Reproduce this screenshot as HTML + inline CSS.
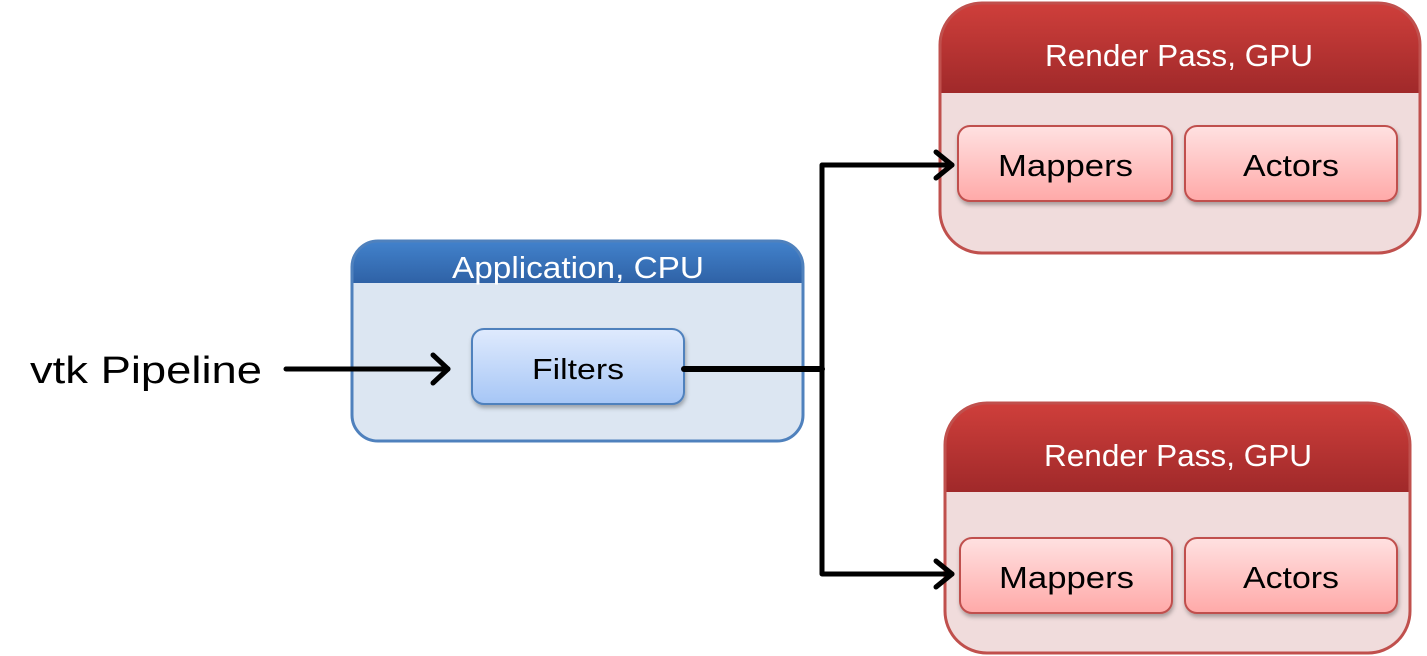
<!DOCTYPE html>
<html><head><meta charset="utf-8"><style>
html,body{margin:0;padding:0;background:#fff;width:1427px;height:656px;overflow:hidden}
svg{display:block}
text{font-family:"Liberation Sans",sans-serif}
</style></head><body>
<svg width="1427" height="656" viewBox="0 0 1427 656" xmlns="http://www.w3.org/2000/svg">
<defs>
<linearGradient id="rh" x1="0" y1="0" x2="0" y2="1"><stop offset="0" stop-color="#cf3f3b"/><stop offset="1" stop-color="#a0292a"/></linearGradient>
<linearGradient id="bh" x1="0" y1="0" x2="0" y2="1"><stop offset="0" stop-color="#4282cc"/><stop offset="1" stop-color="#2f62a6"/></linearGradient>
<linearGradient id="ri" x1="0" y1="0" x2="0" y2="1"><stop offset="0" stop-color="#ffe1e1"/><stop offset="1" stop-color="#ffa9a8"/></linearGradient>
<linearGradient id="bi" x1="0" y1="0" x2="0" y2="1"><stop offset="0" stop-color="#dfeafd"/><stop offset="1" stop-color="#a6c6f6"/></linearGradient>
<clipPath id="c1"><rect x="940" y="3" width="480" height="250" rx="42"/></clipPath>
<clipPath id="c2"><rect x="945" y="403" width="465" height="250" rx="42"/></clipPath>
<clipPath id="c3"><rect x="352" y="241" width="451" height="200" rx="26"/></clipPath>
<filter id="sh" x="-10%" y="-10%" width="130%" height="140%"><feDropShadow dx="1" dy="3" stdDeviation="2" flood-color="#000" flood-opacity="0.3"/></filter>
</defs>

<!-- Top render pass -->
<rect x="940" y="3" width="480" height="250" rx="42" fill="#f0dcdc"/>
<rect x="940" y="3" width="480" height="90" fill="url(#rh)" clip-path="url(#c1)"/>
<rect x="940" y="3" width="480" height="250" rx="42" fill="none" stroke="#c0504d" stroke-width="3"/>
<text x="1045" y="66" font-size="31" fill="#fff" textLength="268" lengthAdjust="spacingAndGlyphs">Render Pass, GPU</text>
<rect x="958" y="126" width="214" height="75" rx="12" fill="url(#ri)" stroke="#c0504d" stroke-width="2" filter="url(#sh)"/>
<rect x="1185" y="126" width="212" height="75" rx="12" fill="url(#ri)" stroke="#c0504d" stroke-width="2" filter="url(#sh)"/>
<text x="998" y="176" font-size="31" textLength="135" lengthAdjust="spacingAndGlyphs">Mappers</text>
<text x="1243" y="176" font-size="31" textLength="96" lengthAdjust="spacingAndGlyphs">Actors</text>

<!-- Bottom render pass -->
<rect x="945" y="403" width="465" height="250" rx="42" fill="#f0dcdc"/>
<rect x="945" y="403" width="465" height="89" fill="url(#rh)" clip-path="url(#c2)"/>
<rect x="945" y="403" width="465" height="250" rx="42" fill="none" stroke="#c0504d" stroke-width="3"/>
<text x="1044" y="466" font-size="31" fill="#fff" textLength="268" lengthAdjust="spacingAndGlyphs">Render Pass, GPU</text>
<rect x="960" y="538" width="212" height="75" rx="12" fill="url(#ri)" stroke="#c0504d" stroke-width="2" filter="url(#sh)"/>
<rect x="1185" y="538" width="212" height="75" rx="12" fill="url(#ri)" stroke="#c0504d" stroke-width="2" filter="url(#sh)"/>
<text x="999" y="588" font-size="31" textLength="135" lengthAdjust="spacingAndGlyphs">Mappers</text>
<text x="1243" y="588" font-size="31" textLength="96" lengthAdjust="spacingAndGlyphs">Actors</text>

<!-- Application -->
<rect x="352" y="241" width="451" height="200" rx="26" fill="#dce6f2"/>
<rect x="352" y="241" width="451" height="42" fill="url(#bh)" clip-path="url(#c3)"/>
<rect x="352" y="241" width="451" height="200" rx="26" fill="none" stroke="#4f81bd" stroke-width="3"/>
<text x="452" y="278" font-size="31" fill="#fff" textLength="252" lengthAdjust="spacingAndGlyphs">Application, CPU</text>
<rect x="472" y="329" width="212" height="75" rx="12" fill="url(#bi)" stroke="#4f81bd" stroke-width="2" filter="url(#sh)"/>
<text x="532" y="379" font-size="29" textLength="92" lengthAdjust="spacingAndGlyphs">Filters</text>

<text x="30" y="383" font-size="38" textLength="232" lengthAdjust="spacingAndGlyphs">vtk Pipeline</text>

<!-- connectors -->
<g stroke="#000" stroke-width="5" fill="none" stroke-linecap="round" stroke-linejoin="round">
<line x1="286" y1="369" x2="448" y2="369"/>
<polyline points="433,355 448,369 433,383"/>
<line x1="684" y1="369" x2="822" y2="369" stroke-width="6"/>
<polyline points="952,165 822,165 822,574 952,574"/>
<polyline points="936,152 952,165 936,178"/>
<polyline points="936,561 952,574 936,587"/>
</g>
</svg>
</body></html>
